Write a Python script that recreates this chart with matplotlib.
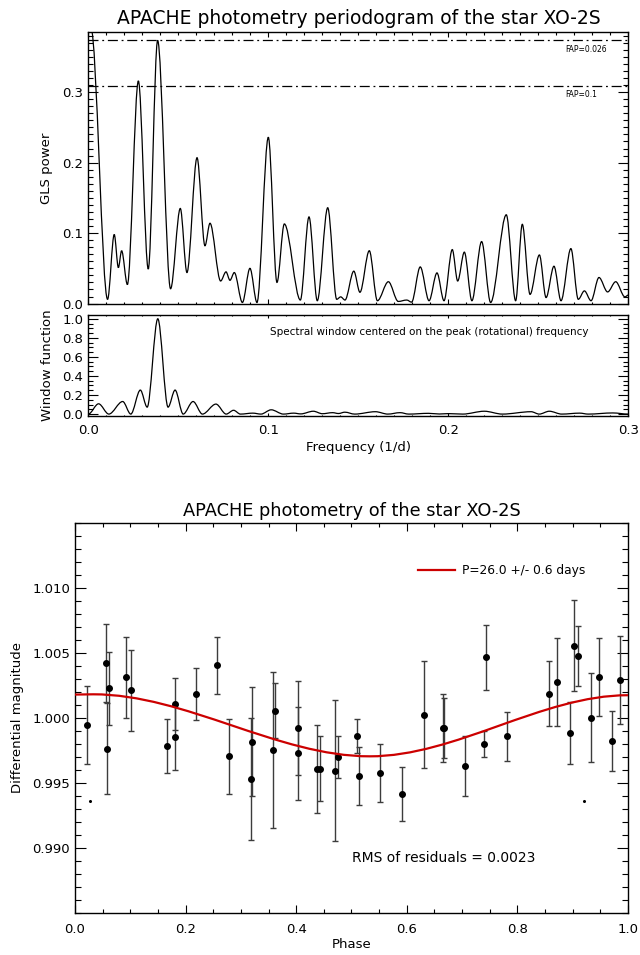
"""APACHE photometry of XO-2S: GLS periodogram, spectral window and phased light curve."""

import matplotlib

matplotlib.use("Agg")
import matplotlib.pyplot as plt
from matplotlib.lines import Line2D
from matplotlib.patches import PathPatch
from matplotlib.path import Path
from matplotlib.ticker import MultipleLocator

gls_freq = [0.0, 0.0015, 0.0107, 0.0144, 0.0167, 0.0185, 0.0217, 0.0278, 0.0333,
            0.0385, 0.0457, 0.0511, 0.0548, 0.0604, 0.0648, 0.0676, 0.0735,
            0.0765, 0.0787, 0.0811, 0.0856, 0.0898, 0.0937, 0.1000, 0.1048,
            0.1089, 0.1178, 0.1226, 0.1272, 0.1330, 0.1380, 0.1402, 0.1426,
            0.1475, 0.1509, 0.1561, 0.1606, 0.1667, 0.1722, 0.1769, 0.1796,
            0.1844, 0.1893, 0.1937, 0.1976, 0.2022, 0.2052, 0.2089, 0.2131,
            0.2185, 0.2235, 0.2322, 0.2374, 0.2411, 0.2454, 0.2506, 0.2543,
            0.2587, 0.2626, 0.2681, 0.2722, 0.2756, 0.2793, 0.2837, 0.2885,
            0.2930, 0.2981, 0.3000]
gls_power = [0.390, 0.390, 0.006, 0.098, 0.051, 0.075, 0.027, 0.316, 0.049,
             0.3735, 0.021, 0.135, 0.044, 0.207, 0.082, 0.114, 0.032,
             0.045, 0.033, 0.044, 0.0015, 0.050, 0.0015, 0.236, 0.030,
             0.113, 0.005, 0.123, 0.004, 0.136, 0.006, 0.0095, 0.005,
             0.046, 0.016, 0.075, 0.004, 0.031, 0.003, 0.005, 0.002,
             0.052, 0.004, 0.0435, 0.004, 0.0766, 0.032, 0.073, 0.004,
             0.088, 0.0015, 0.126, 0.004, 0.1125, 0.013, 0.069, 0.0085,
             0.053, 0.004, 0.078, 0.006, 0.018, 0.004, 0.037, 0.0165,
             0.031, 0.0095, 0.012]
fap_levels = [0.3735, 0.309]
fap_labels = ["FAP=0.026", "FAP=0.1"]

# spectral window centred on the rotational frequency
win_freq = [0.0, 0.0057, 0.0114, 0.0191, 0.0236, 0.0289, 0.0327, 0.0386, 0.0443,
            0.0482, 0.0527, 0.0582, 0.0634, 0.0709, 0.0766, 0.0807, 0.0845,
            0.0914, 0.0959, 0.1016, 0.1084, 0.1141, 0.1180, 0.1250, 0.1300,
            0.1357, 0.1390, 0.1425, 0.1480, 0.1595, 0.1664, 0.1732, 0.1780,
            0.1890, 0.1950, 0.2000, 0.2080, 0.2200, 0.2300, 0.2460, 0.2505,
            0.2561, 0.2630, 0.2730, 0.2777, 0.2914, 0.3000]
win_power = [0.0, 0.108, 0.0, 0.132, 0.0, 0.252, 0.073, 1.0, 0.073,
             0.252, 0.0, 0.132, 0.0, 0.105, 0.0, 0.040, 0.0,
             0.010, 0.0, 0.045, 0.0, 0.010, 0.002, 0.030, 0.004,
             0.015, 0.006, 0.020, 0.0, 0.025, 0.0, 0.015, 0.0,
             0.008, 0.001, 0.005, 0.0, 0.030, 0.0, 0.025, 0.0,
             0.030, 0.0, 0.010, 0.0, 0.012, 0.0]

# phased photometry
phase = [0.021, 0.0555, 0.062, 0.0585, 0.092, 0.101, 0.166, 0.181, 0.181,
         0.219, 0.257, 0.279, 0.318, 0.3206, 0.3575, 0.361, 0.4038, 0.4038,
         0.437, 0.4437, 0.470, 0.4756, 0.5105, 0.514, 0.552, 0.5907, 0.6317,
         0.665, 0.667, 0.7047, 0.743, 0.740, 0.7806, 0.858, 0.871, 0.896,
         0.9018, 0.9096, 0.9337, 0.948, 0.972, 0.986]
diff_mag = [0.99946, 1.00421, 1.00228, 0.99762, 1.00313, 1.00213, 0.99783,
            1.00105, 0.99852, 1.00187, 1.00405, 0.99705, 0.99533, 0.99818,
            0.99757, 1.00056, 0.99923, 0.99728, 0.99608, 0.99608, 0.99595,
            0.99698, 0.99859, 0.99554, 0.99577, 0.99415, 1.00026, 0.99923,
            0.99923, 0.99631, 1.00467, 0.99800, 0.99859, 1.00185, 1.00277,
            0.99885, 1.00556, 1.00479, 1.00003, 1.00313, 0.99821, 1.00292]
mag_err = [0.0030, 0.0030, 0.0028, 0.0035, 0.0031, 0.0031, 0.0021, 0.0020,
           0.0025, 0.0020, 0.0022, 0.0029, 0.0047, 0.0042, 0.0060, 0.0021,
           0.0036, 0.0036, 0.0034, 0.0025, 0.0054, 0.0016, 0.0013, 0.0022,
           0.0022, 0.0021, 0.0041, 0.0026, 0.0023, 0.0023, 0.0025, 0.0010,
           0.0019, 0.0025, 0.0034, 0.0024, 0.0035, 0.0023, 0.0034, 0.0030,
           0.0023, 0.0034]
stray_phase = [0.028, 0.921]
stray_mag = [0.99361, 0.99361]

fit_phase = [0.0, 0.033, 0.533, 1.0]
fit_mag = [1.00180, 1.00182, 0.99705, 1.00175]

RED = "#cc0000"


def smooth_curve(ax, xs, ys, **kw):
    """Join turning points with cubic Bezier arcs (flat at each turning point)."""
    verts = [(xs[0], ys[0])]
    codes = [Path.MOVETO]
    for x0, y0, x1, y1 in zip(xs[:-1], ys[:-1], xs[1:], ys[1:]):
        dx = (x1 - x0) / 3.0
        verts += [(x0 + dx, y0), (x1 - dx, y1), (x1, y1)]
        codes += [Path.CURVE4] * 3
    ax.add_patch(PathPatch(Path(verts, codes), fill=False, **kw))


def idl_ticks(ax, xmaj, xmin, ymaj, ymin, xlen, ylen):
    ax.xaxis.set_major_locator(MultipleLocator(xmaj))
    ax.xaxis.set_minor_locator(MultipleLocator(xmin))
    ax.yaxis.set_major_locator(MultipleLocator(ymaj))
    ax.yaxis.set_minor_locator(MultipleLocator(ymin))
    ax.tick_params(which="both", direction="in", top=True, right=True, width=0.8)
    ax.tick_params(axis="x", which="major", length=xlen)
    ax.tick_params(axis="x", which="minor", length=xlen / 2)
    ax.tick_params(axis="y", which="major", length=ylen)
    ax.tick_params(axis="y", which="minor", length=ylen / 2)
    ax.tick_params(labelsize=9.5)


plt.rcParams["font.family"] = "DejaVu Sans"
plt.rcParams["axes.linewidth"] = 1.0

fig = plt.figure(figsize=(6.40, 9.55), dpi=100)
ax1 = fig.add_axes([0.138, 0.6814, 0.84375, 0.2848])
ax2 = fig.add_axes([0.138, 0.5644, 0.84375, 0.1058])
ax3 = fig.add_axes([0.1172, 0.044, 0.864, 0.4084])

# --- GLS periodogram
smooth_curve(ax1, gls_freq, gls_power, edgecolor="black", linewidth=0.9)
for level, label in zip(fap_levels, fap_labels):
    ax1.axhline(level, color="black", linewidth=0.9, linestyle=(0, (8, 3, 1.5, 3)))
    ax1.text(0.265, level - 0.013, label, fontsize=5.5, va="center", ha="left")
ax1.set_xlim(0, 0.3)
ax1.set_ylim(-0.001, 0.385)
idl_ticks(ax1, 0.1, 0.01, 0.1, 0.01, 3.6, 7.5)
ax1.set_xticklabels([])
ax1.set_ylabel("GLS power", fontsize=9.5, labelpad=7)
ax1.set_title("APACHE photometry periodogram of the star XO-2S", fontsize=13.5, pad=6)

# --- spectral window
smooth_curve(ax2, win_freq, win_power, edgecolor="black", linewidth=0.9)
ax2.set_xlim(0, 0.3)
ax2.set_ylim(-0.02, 1.04)
idl_ticks(ax2, 0.1, 0.01, 0.2, 0.05, 2.0, 7.5)
ax2.set_yticks([0.0, 0.2, 0.4, 0.6, 0.8, 1.0])
ax2.set_yticklabels(["0.0", "0.2", "0.4", "0.6", "0.8", "1.0"])
ax2.set_xticks([0.0, 0.1, 0.2, 0.3])
ax2.set_xticklabels(["0.0", "0.1", "0.2", "0.3"])
ax2.tick_params(axis="x", pad=6)
ax2.set_xlabel("Frequency (1/d)", fontsize=9.5, labelpad=3)
ax2.set_ylabel("Window function", fontsize=9.5, labelpad=6)
ax2.text(0.632, 0.83, "Spectral window centered on the peak (rotational) frequency",
         transform=ax2.transAxes, fontsize=7.5, ha="center", va="center")

# --- phased light curve
ax3.errorbar(phase, diff_mag, yerr=mag_err, fmt="o", color="black", markersize=4,
             ecolor="#3c3c3c", elinewidth=1.0, capsize=2.4, capthick=1.0, zorder=3)
ax3.plot(stray_phase, stray_mag, "o", color="black", markersize=1.2)
smooth_curve(ax3, fit_phase, fit_mag, edgecolor=RED, linewidth=1.6, zorder=4)
ax3.set_xlim(0, 1)
ax3.set_ylim(0.985, 1.015)
idl_ticks(ax3, 0.2, 0.05, 0.005, 0.001, 5.6, 8)
ax3.set_xticks([0.0, 0.2, 0.4, 0.6, 0.8, 1.0])
ax3.set_xticklabels(["0.0", "0.2", "0.4", "0.6", "0.8", "1.0"])
ax3.set_yticks([0.990, 0.995, 1.000, 1.005, 1.010])
ax3.set_yticklabels(["0.990", "0.995", "1.000", "1.005", "1.010"])
ax3.tick_params(axis="x", pad=7)
ax3.set_xlabel("Phase", fontsize=9.5, labelpad=2)
ax3.set_ylabel("Differential magnitude", fontsize=9.5, labelpad=6)
ax3.set_title("APACHE photometry of the star XO-2S", fontsize=12.8, pad=5)
handle = Line2D([], [], color=RED, linewidth=1.6)
ax3.legend([handle], ["P=26.0 +/- 0.6 days"], loc="center left",
           bbox_to_anchor=(0.621, 0.877), frameon=False, fontsize=8.8,
           handlelength=3.0, handletextpad=0.6, borderpad=0, borderaxespad=0)
ax3.text(0.666, 0.141, "RMS of residuals = 0.0023", transform=ax3.transAxes,
         fontsize=10, ha="center", va="center")

fig.savefig("out.png", dpi=100)
